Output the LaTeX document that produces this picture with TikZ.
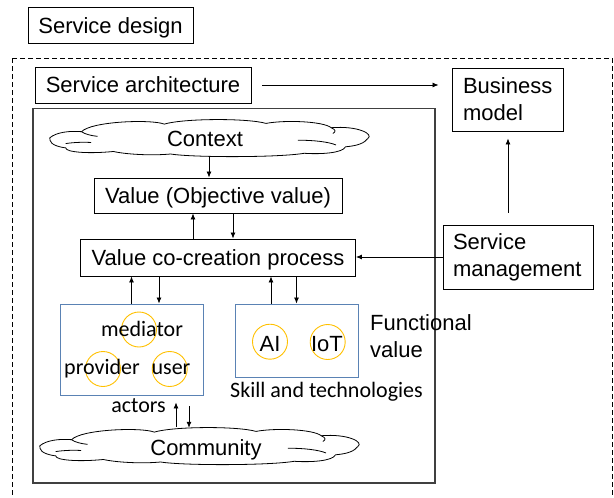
\documentclass[tikz,border=0pt]{standalone}
\usepackage{fontspec}
\setmainfont{Liberation Sans}
\newfontfamily\calib{Carlito}
\usetikzlibrary{arrows.meta}
\definecolor{boxblue}{HTML}{5A82B4}
\definecolor{gold}{HTML}{FFC000}
\definecolor{frame}{HTML}{404040}
\tikzset{
  txt/.style={font=\fontsize{22}{27}\selectfont, inner sep=0pt},
  ctxt/.style={font=\calib\fontsize{22}{27}\selectfont, inner sep=0pt},
  box/.style={draw, line width=0.9pt, txt, text height=15.75pt, text depth=0pt},
  mbox/.style={draw, line width=0.9pt, txt, align=left, anchor=center},
  bluebox/.style={draw=boxblue, line width=0.9pt, inner sep=0pt},
  ring/.style={circle, draw=gold, line width=0.9pt, minimum size=35pt, inner sep=0pt},
  cloudarea/.style={rectangle, inner sep=0pt, minimum width=318pt, minimum height=36pt},
  cloudline/.style={line width=0.8pt, fill=white},
  arr/.style={-{Latex[length=6pt,width=5pt]}, line width=0.8pt},
}
% cloud outline in unit coordinates (0..1 across, 0..1 down)
\newcommand\mycloudpath{%
  \draw[cloudline] (0,0.5)
    .. controls (0.02,0.35) and (0.06,0.30) .. (0.10,0.33)
    .. controls (0.13,0.04) and (0.32,-0.02) .. (0.36,0.12)
    .. controls (0.42,-0.04) and (0.62,-0.05) .. (0.68,0.10)
    .. controls (0.74,0.00) and (0.86,0.04) .. (0.885,0.22)
    .. controls (0.97,0.16) and (1.02,0.40) .. (1.00,0.52)
    .. controls (0.99,0.64) and (0.97,0.72) .. (0.93,0.75)
    .. controls (0.92,0.93) and (0.85,0.96) .. (0.80,0.93)
    .. controls (0.72,1.05) and (0.45,1.05) .. (0.38,0.95)
    .. controls (0.32,1.00) and (0.24,0.96) .. (0.20,0.88)
    .. controls (0.12,0.95) and (0.05,0.90) .. (0.05,0.78)
    .. controls (0.00,0.72) and (0.00,0.58) .. (0,0.5) -- cycle;
  \draw[line width=0.8pt] (0.05,0.66) .. controls (0.08,0.62) and (0.11,0.62) .. (0.13,0.63);
  \draw[line width=0.8pt] (0.78,0.57) .. controls (0.83,0.56) and (0.88,0.62) .. (0.90,0.70);
  \draw[line width=0.8pt] (0.885,0.22) .. controls (0.90,0.28) and (0.90,0.33) .. (0.89,0.38);
  \draw[line width=0.8pt] (0.10,0.33) .. controls (0.11,0.40) and (0.13,0.44) .. (0.15,0.46);
}
\begin{document}
\begin{tikzpicture}[x=1pt,y=-1pt]
\useasboundingbox (0,0) rectangle (614,498);
\clip (0,0) rectangle (614,498);
% dashed frame
\draw[line width=0.9pt, dash pattern=on 5pt off 3pt] (12,58) rectangle (612.5,520);
% top boxes
\node[box, minimum width=165pt, minimum height=36pt] (sd) at (110.5,25.3) {Service design};
\node[box, minimum width=216pt, minimum height=36pt] (sa) at (143,85) {Service architecture};
\node[mbox, minimum width=111pt, minimum height=63pt, text width=89pt] (bm) at (507.5,99.5) {Business\\model};
\node[mbox, minimum width=150pt, minimum height=64pt, text width=130pt] (sm) at (518,257) {Service\\management};
% inner frame
\draw[draw=frame, line width=1.3pt] (33,108.5) rectangle (435,483);
% clouds
\node[cloudarea] (ctx) at (209,138) {};
\begin{scope}[shift={(ctx.north west)}, x=318pt, y=-36pt]
  \mycloudpath
\end{scope}
\node[txt, text height=15.75pt, text depth=0pt] (tctx) at (205,138.5) {Context};
\node[cloudarea] (com) at (199,446) {};
\begin{scope}[shift={(com.north west)}, x=318pt, y=-36pt]
  \mycloudpath
\end{scope}
\node[txt, text height=15.75pt, text depth=0pt] (tcom) at (206,447.5) {Community};
% value boxes
\node[box, minimum width=248pt, minimum height=35pt] (val) at (218,195.5) {Value (Objective value)};
\node[box, minimum width=275pt, minimum height=37pt] (vcp) at (218,257.5) {Value co-creation process};
% actors and skills
\node[bluebox, minimum width=143pt, minimum height=91pt] (act) at (131.5,349.5) {};
\node[bluebox, minimum width=123pt, minimum height=73pt] (skl) at (296.5,340.5) {};
\node[ring] (rmed) at (139,329.5) {};
\node[ring] (rpro) at (103,369) {};
\node[ring] (rusr) at (169.7,369) {};
\node[ring] (rai) at (270,341.7) {};
\node[ring] (riot) at (327.7,342) {};
\node[ctxt, anchor=base] (tmed) at (142,336) {mediator};
\node[ctxt, anchor=base] (tpro) at (102,374) {provider};
\node[ctxt, anchor=base] (tusr) at (171,374) {user};
\node[txt, anchor=base] (tai) at (270,351.5) {AI};
\node[txt, anchor=base] (tiot) at (327,351.5) {IoT};
\node[ctxt, anchor=base] (tact) at (138.5,412.7) {actors};
\node[ctxt, anchor=base] (tskl) at (326.5,397) {Skill and technologies};
\node[txt, anchor=north west, align=left] (tfun) at (370,314.5) {Functional\\value};
% connectors
\draw[arr, shorten <=11pt, shorten >=13pt] (sa.east) -- (sa.east -| bm.west);
\draw[arr] (ctx.south) -- (ctx.south |- val.north);
\draw[arr] ([xshift=-25pt]vcp.north) -- ([xshift=-25pt]vcp.north |- val.south);
\draw[arr] ([xshift=15pt]val.south) -- ([xshift=15pt]val.south |- vcp.north);
\draw[arr] (sm.west) -- (sm.west -| vcp.east);
\draw[arr, shorten <=12pt, shorten >=7pt] ([xshift=-10pt]sm.north) -- ([xshift=-10pt]sm.north |- bm.south);
\draw[arr] (act.north) -- (act.north |- vcp.south);
\draw[arr] ([xshift=27.5pt]vcp.south -| act.north) -- ([xshift=27.5pt]act.north);
\draw[arr] ([xshift=-25.5pt]skl.north) -- ([xshift=-25.5pt]skl.north |- vcp.south);
\draw[arr] (vcp.south -| skl.north) -- (skl.north);
\draw[arr, shorten <=1pt, shorten >=7pt] ([xshift=44.5pt]com.north -| act.south) -- ([xshift=44.5pt]act.south);
\draw[arr, shorten <=11pt, shorten >=0pt] ([xshift=57.5pt]act.south) -- ([xshift=57.5pt]act.south |- com.north);
\end{tikzpicture}
\end{document}
